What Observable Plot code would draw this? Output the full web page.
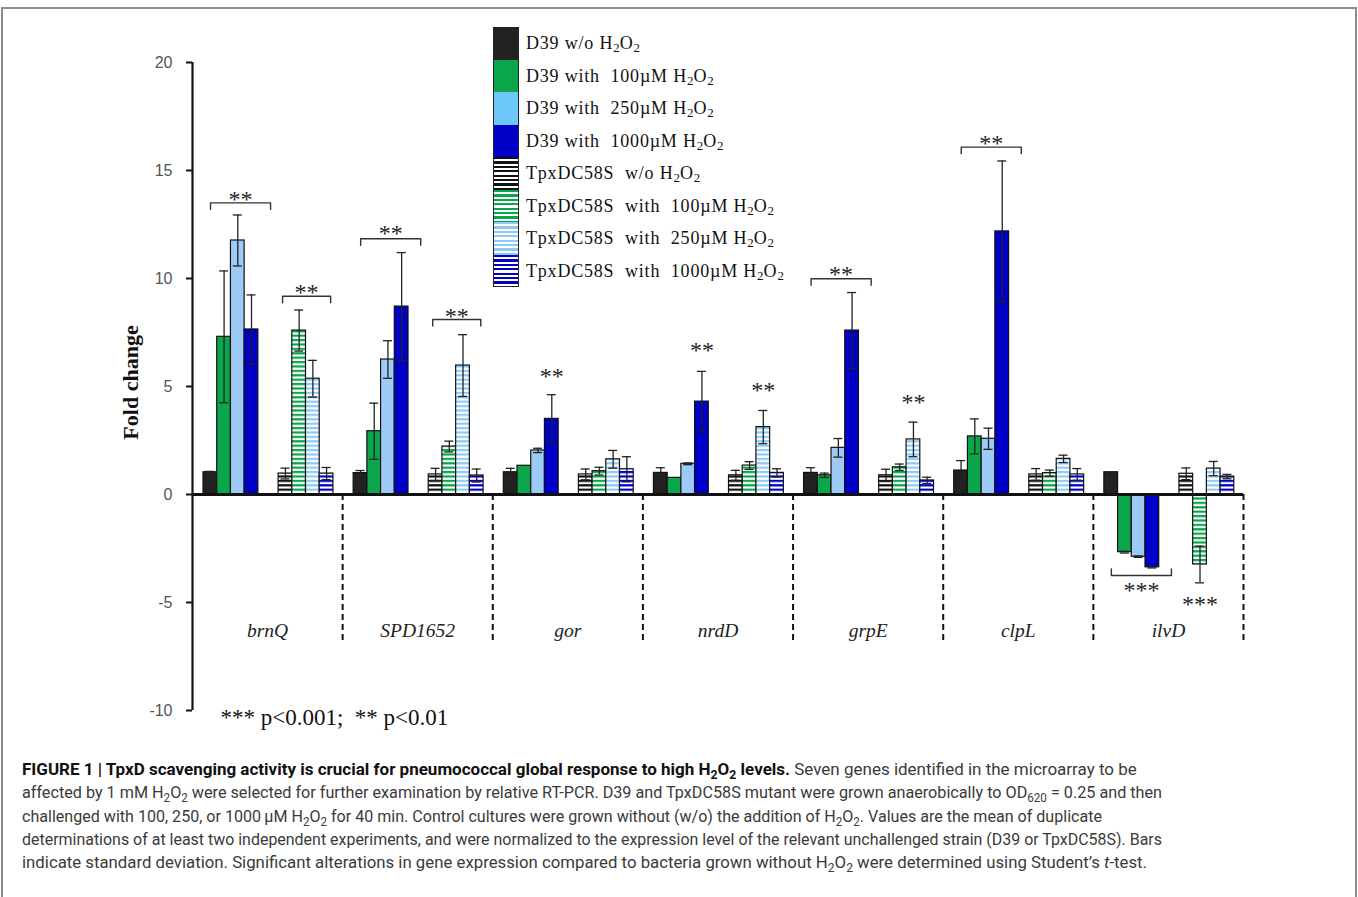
<!DOCTYPE html>
<html>
<head>
<meta charset="utf-8">
<script src="https://cdn.jsdelivr.net/npm/d3@7"></script>
<script src="https://cdn.jsdelivr.net/npm/@observablehq/plot@0.6"></script>
<style>
  html, body { margin: 0; padding: 0; background: #fff; }
  #frame { position: absolute; left: 1px; top: 7px; width: 1356px; height: 900px;
           border: 2px solid #8c8c8c; border-bottom: none; box-sizing: border-box; }
  #chart { position: absolute; left: 0; top: 0; }
  #legend { position: absolute; left: 490px; top: 18px; font-family: "Liberation Serif", "Times New Roman", serif;
            font-size: 18px; letter-spacing: 0.8px; color: #111; }
  #legend .row { position: relative; height: 32.5px; }
  #legend .sw { position: absolute; left: 0; top: 0; width: 26px; height: 32.5px; box-sizing: border-box;
                border-left: 1.5px solid #222; border-right: 1.5px solid #222; }
  #legend .row:first-child .sw { border-top: 1.5px solid #222; }
  #legend .row:last-child .sw { border-bottom: 1.5px solid #222; }
  #legend .lab { position: absolute; left: 33px; top: 50%; transform: translateY(-50%); white-space: pre; }
  sub { font-size: 0.72em; vertical-align: -0.3em; line-height: 0; letter-spacing: 0; }
  #caption { position: absolute; left: 19px; top: 749px; font-family: "Roboto", "Liberation Sans", sans-serif;
             font-size: 17px; line-height: 23.3px; color: #3a3a3a; }
  #caption div { white-space: nowrap; transform-origin: 0 50%; }
  #caption b { color: #111; }
</style>
</head>
<body>
<div id="frame">
  <div id="chart"></div>
  <div id="legend"></div>
  <div id="caption"></div>
</div>
<script>
// ---------------- data ----------------
const genes = ["brnQ", "SPD1652", "gor", "nrdD", "grpE", "clpL", "ilvD"];
const conditions = [
  "D39 w/o H2O2", "D39 with 100µM H2O2", "D39 with 250µM H2O2", "D39 with 1000µM H2O2",
  "TpxDC58S w/o H2O2", "TpxDC58S with 100µM H2O2", "TpxDC58S with 250µM H2O2", "TpxDC58S with 1000µM H2O2"
];
const legendLabels = [
  "D39 w/o H<sub>2</sub>O<sub>2</sub>",
  "D39 with&nbsp; 100µM H<sub>2</sub>O<sub>2</sub>",
  "D39 with&nbsp; 250µM H<sub>2</sub>O<sub>2</sub>",
  "D39 with&nbsp; 1000µM H<sub>2</sub>O<sub>2</sub>",
  "TpxDC58S&nbsp; w/o H<sub>2</sub>O<sub>2</sub>",
  "TpxDC58S&nbsp; with&nbsp; 100µM H<sub>2</sub>O<sub>2</sub>",
  "TpxDC58S&nbsp; with&nbsp; 250µM H<sub>2</sub>O<sub>2</sub>",
  "TpxDC58S&nbsp; with&nbsp; 1000µM H<sub>2</sub>O<sub>2</sub>"
];
// fold change, one value per gene (order of genes)
const d39_wo    = [1.03, 0.99, 1.03, 1.00, 1.00, 1.11, 1.03];
const d39_100   = [7.30, 2.93, 1.33, 0.77, 0.89, 2.69, -2.67];
const d39_250   = [11.76, 6.25, 2.04, 1.42, 2.16, 2.58, -2.88];
const d39_1000  = [7.64, 8.70, 3.50, 4.30, 7.59, 12.18, -3.37];
const tpx_wo    = [0.97, 0.93, 0.93, 0.89, 0.89, 0.93, 0.96];
const tpx_100   = [7.59, 2.22, 1.08, 1.34, 1.26, 0.99, -3.24];
const tpx_250   = [5.36, 5.97, 1.63, 3.12, 2.55, 1.65, 1.20];
const tpx_1000  = [0.97, 0.88, 1.17, 1.00, 0.65, 0.93, 0.83];
// standard deviations
const d39_wo_sd   = [0.04, 0.12, 0.18, 0.24, 0.24, 0.46, 0];
const d39_100_sd  = [3.05, 1.30, 0, 0, 0.10, 0.81, 0.04];
const d39_250_sd  = [1.18, 0.87, 0.10, 0.04, 0.43, 0.49, 0.03];
const d39_1000_sd = [1.60, 2.50, 1.12, 1.40, 1.76, 3.26, 0.03];
const tpx_wo_sd   = [0.25, 0.28, 0.25, 0.23, 0.28, 0.27, 0.27];
const tpx_100_sd  = [0.95, 0.25, 0.18, 0.18, 0.15, 0.14, 0.85];
const tpx_250_sd  = [0.85, 1.43, 0.41, 0.77, 0.80, 0.17, 0.33];
const tpx_1000_sd = [0.28, 0.30, 0.58, 0.19, 0.15, 0.27, 0.10];
// significance annotations
const sigGene    = ["brnQ", "brnQ", "SPD1652", "SPD1652", "gor", "nrdD", "nrdD", "grpE", "grpE", "clpL", "ilvD", "ilvD"];
const sigStrain  = ["D39", "TpxDC58S", "D39", "TpxDC58S", "D39", "D39", "TpxDC58S", "D39", "TpxDC58S", "D39", "D39", "TpxDC58S"];
const sigLabel   = ["**", "**", "**", "**", "**", "**", "**", "**", "**", "**", "***", "***"];
const sigBracket = [13.5, 9.18, 11.84, 8.10, null, null, null, 9.99, null, 16.08, -3.75, null];
const sigStars   = [13.8, 9.49, 12.22, 8.39, 5.63, 6.81, 4.97, 10.34, 4.40, 16.42, -4.29, -4.95];
const sigBar     = [null, null, null, null, 3, 3, 2, null, 2, null, null, 1];
const yTicks = [-10, -5, 0, 5, 10, 15, 20];
const note = "*** p<0.001;\u00a0 ** p<0.01";

// ---------------- styles ----------------
const solid = ["#222222", "#0ba54c", "#9dcbf5", "#0000c8"];
const legendSolid = ["#222222", "#0ba54c", "#6cc8f8", "#0000c8"];
const stripeCol = ["#111111", "#0ba54c", "#8ccaf8", "#0000c8"];
const fills = [...solid, "url(#st0)", "url(#st1)", "url(#st2)", "url(#st3)"];
const BAR_W = 13.7 / 150, D39_OFF = 11 / 150, TPX_OFF = 86 / 150, CAP = 4.5 / 150;
const BR = {D39: [18 / 150, 78 / 150], TpxDC58S: [90 / 150, 138 / 150]};

const valueSeries = [d39_wo, d39_100, d39_250, d39_1000, tpx_wo, tpx_100, tpx_250, tpx_1000];
const sdSeries = [d39_wo_sd, d39_100_sd, d39_250_sd, d39_1000_sd, tpx_wo_sd, tpx_100_sd, tpx_250_sd, tpx_1000_sd];

const rows = [];
genes.forEach((g, gi) => conditions.forEach((c, ci) => {
  const x1 = gi + (ci < 4 ? D39_OFF : TPX_OFF) + (ci % 4) * BAR_W;
  rows.push({gene: g, cond: c, ci, x1, x2: x1 + BAR_W, xc: x1 + BAR_W / 2,
             value: valueSeries[ci][gi], sd: sdSeries[ci][gi]});
}));
const errRows = rows.filter(d => d.sd > 0);

const sigs = sigGene.map((g, i) => {
  const gi = genes.indexOf(g);
  const [a, b] = BR[sigStrain[i]];
  let xc;
  if (sigBar[i] == null) xc = gi + (a + b) / 2;
  else xc = gi + (sigStrain[i] === "D39" ? D39_OFF : TPX_OFF) + (sigBar[i] + 0.5) * BAR_W;
  return {gi, x1: gi + a, x2: gi + b, xc, label: sigLabel[i], bracket: sigBracket[i], stars: sigStars[i]};
});
const bracketPts = [];
sigs.forEach((s, i) => {
  if (s.bracket == null) return;
  const t = s.bracket > 0 ? -0.3 : 0.3;
  bracketPts.push({id: i, x: s.x1, y: s.bracket + t}, {id: i, x: s.x1, y: s.bracket},
                  {id: i, x: s.x2, y: s.bracket}, {id: i, x: s.x2, y: s.bracket + t});
});

const serif = "Liberation Serif, Times New Roman, serif";

const plot = Plot.plot({
  width: 1352, height: 740,
  marginLeft: 189, marginRight: 112, marginTop: 53, marginBottom: 39,
  x: {domain: [0, genes.length], axis: null},
  y: {domain: [-10, 20], axis: null},
  color: {type: "identity"},
  style: {background: "transparent", overflow: "visible"},
  marks: [
    // y axis ticks & labels
    Plot.axisY({ticks: yTicks, tickSize: 6, strokeWidth: 2, stroke: "#111", text: null, label: null}),
    Plot.axisY({ticks: yTicks, tickSize: 0, tickPadding: 20, fill: "#555", fontSize: 16,
                fontFamily: "Liberation Sans, Arial, sans-serif", tickFormat: d => String(d), label: null}),
    Plot.ruleX([0], {y1: () => yTicks[0], y2: () => yTicks[yTicks.length - 1], stroke: "#111", strokeWidth: 2.2}),
    // dashed separators
    Plot.ruleX(genes.map((g, i) => i + 1), {x: d => d, y1: () => 0, y2: () => -6.8, stroke: "#111",
               strokeWidth: 2, strokeDasharray: "6,4"}),
    // bars
    Plot.rect(rows, {x1: "x1", x2: "x2", y1: () => 0, y2: "value", fill: d => fills[d.ci],
                     stroke: "#111", strokeWidth: 1.2}),
    // zero line
    Plot.ruleY([0], {x1: () => 0, x2: () => genes.length, stroke: "#111", strokeWidth: 2.8}),
    // error bars
    Plot.ruleX(errRows, {x: "xc", y1: d => d.value - d.sd, y2: d => d.value + d.sd, stroke: "#222", strokeWidth: 1.3}),
    Plot.ruleY(errRows, {y: d => d.value + d.sd, x1: d => d.xc - CAP, x2: d => d.xc + CAP, stroke: "#222", strokeWidth: 1.3}),
    Plot.ruleY(errRows, {y: d => d.value - d.sd, x1: d => d.xc - CAP, x2: d => d.xc + CAP, stroke: "#222", strokeWidth: 1.3}),
    // significance
    Plot.line(bracketPts, {x: "x", y: "y", z: "id", stroke: "#333", strokeWidth: 1.4}),
    Plot.text(sigs, {x: "xc", y: "stars", text: "label", fontSize: 24, fontFamily: serif, fill: "#222",
                     lineAnchor: "middle", dy: 3}),
    // gene labels
    Plot.text(genes, {x: (d, i) => i + 0.5, y: () => -6.3, text: d => d, fontSize: 19.5, fontStyle: "italic",
                      fontFamily: serif, fill: "#222", lineAnchor: "middle"}),
    // y label
    Plot.text(["Fold change"], {frameAnchor: "left", text: d => d, rotate: -90, dx: -62, dy: -4, fontSize: 22,
                                textAnchor: "middle", fontWeight: "bold", fontFamily: serif, fill: "#111"}),
    // note
    Plot.text([note], {frameAnchor: "bottom-left", text: d => d, dx: 28, dy: 7, lineAnchor: "middle",
                       textAnchor: "start", fontSize: 23, fontFamily: serif, fill: "#111"})
  ]
});

// stripe patterns for the TpxDC58S bars
const defs = d3.select(plot).insert("defs", ":first-child");
stripeCol.forEach((c, i) => {
  const p = defs.append("pattern").attr("id", "st" + i).attr("patternUnits", "userSpaceOnUse")
    .attr("width", 10).attr("height", 4.4);
  p.append("rect").attr("width", 10).attr("height", 4.4).attr("fill", "#fff");
  p.append("rect").attr("width", 10).attr("height", 2.2).attr("fill", c);
});
document.getElementById("chart").appendChild(plot);

// legend
const legend = document.getElementById("legend");
conditions.forEach((c, i) => {
  const row = document.createElement("div");
  row.className = "row";
  const sw = document.createElement("div");
  sw.className = "sw";
  if (i < 4) sw.style.background = legendSolid[i];
  else sw.style.background = `repeating-linear-gradient(to bottom, ${stripeCol[i - 4]} 0px, ${stripeCol[i - 4]} 2.2px, #fff 2.2px, #fff 4.4px)`;
  const lab = document.createElement("div");
  lab.className = "lab";
  lab.innerHTML = legendLabels[i];
  row.appendChild(sw); row.appendChild(lab);
  legend.appendChild(row);
});

// caption
const captionLines = [
  "<b>FIGURE 1 | TpxD scavenging activity is crucial for pneumococcal global response to high H<sub>2</sub>O<sub>2</sub> levels.</b> Seven genes identified in the microarray to be",
  "affected by 1 mM H<sub>2</sub>O<sub>2</sub> were selected for further examination by relative RT-PCR. D39 and TpxDC58S mutant were grown anaerobically to OD<sub>620</sub> = 0.25 and then",
  "challenged with 100, 250, or 1000\u2009µM H<sub>2</sub>O<sub>2</sub> for 40 min. Control cultures were grown without (w/o) the addition of H<sub>2</sub>O<sub>2</sub>. Values are the mean of duplicate",
  "determinations of at least two independent experiments, and were normalized to the expression level of the relevant unchallenged strain (D39 or TpxDC58S). Bars",
  "indicate standard deviation. Significant alterations in gene expression compared to bacteria grown without H<sub>2</sub>O<sub>2</sub> were determined using Student’s <i>t</i>-test."
];
const captionTargetWidths = [1118, 1140, 1080, 1140, 1125];
const cap = document.getElementById("caption");
cap.innerHTML = captionLines.map(l => `<div><span>${l}</span></div>`).join("");
cap.querySelectorAll("div").forEach((div, i) => {
  const w = div.firstChild.getBoundingClientRect().width;
  if (w > 0) div.style.transform = `scaleX(${Math.min(1, captionTargetWidths[i] / w)})`;
});
</script>
</body>
</html>
